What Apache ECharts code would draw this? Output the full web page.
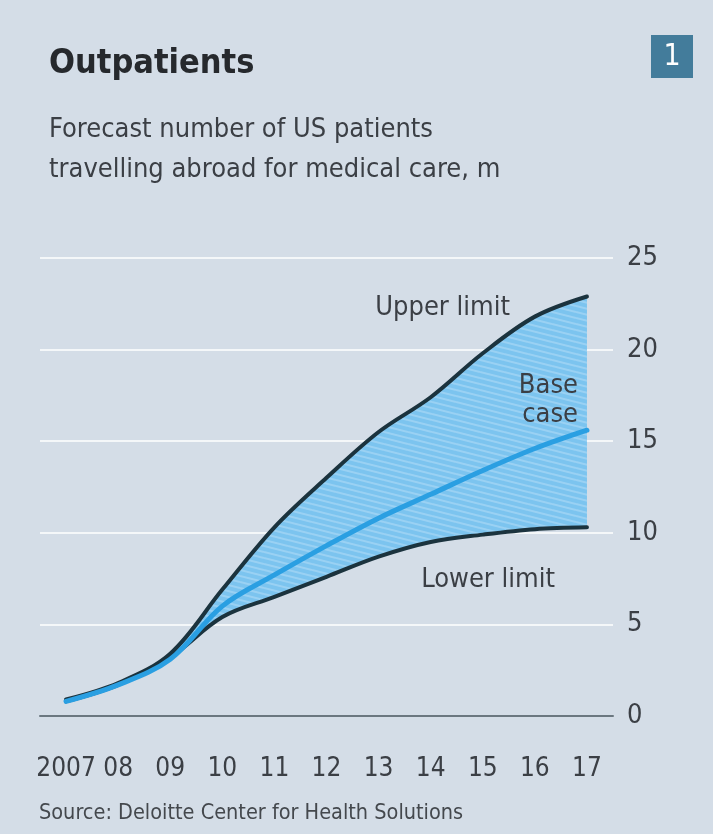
<!DOCTYPE html>
<html>
<head>
<meta charset="utf-8">
<style>
  html, body { margin: 0; padding: 0; background: #d4dde7; }
  #chart { width: 713px; height: 834px; }
</style>
<script src="https://cdn.jsdelivr.net/npm/echarts@6/dist/echarts.min.js"></script>
</head>
<body>
<div id="chart"></div>
<script>
// data, millions of patients
const years = ['2007', '08', '09', '10', '11', '12', '13', '14', '15', '16', '17']
const upperLimit = [0.9, 1.8, 3.4, 6.9, 10.3, 13.0, 15.5, 17.4, 19.8, 21.8, 22.9]
const baseCase = [0.8, 1.7, 3.1, 6.0, 7.7, 9.3, 10.8, 12.1, 13.4, 14.6, 15.6]
const lowerLimit = [0.8, 1.7, 3.2, 5.4, 6.5, 7.6, 8.7, 9.5, 9.9, 10.2, 10.3]
const yTicks = [0, 5, 10, 15, 20, 25]

const font = "'DejaVu Sans Condensed', 'Liberation Sans Narrow', sans-serif"
const textColor = '#3b3f45'

// striped fill for the band between limits
const makeStripes = () => {
  const c = document.createElement('canvas')
  c.width = 24
  c.height = 6
  const ctx = c.getContext('2d')
  ctx.fillStyle = '#7cc4ef'
  ctx.fillRect(0, 0, 24, 6)
  ctx.strokeStyle = '#9ad1f3'
  ctx.lineWidth = 2
  for (let k = -6; k <= 6; k += 6) {
    ctx.beginPath()
    ctx.moveTo(0, k)
    ctx.lineTo(24, k + 6)
    ctx.stroke()
  }
  return c
}

const chart = echarts.init(document.getElementById('chart'))

const bandHeight = upperLimit.map((v, i) => +(v - lowerLimit[i]).toFixed(2))

const lineSeries = (name, data, color, width, z) => ({
  name: name,
  type: 'line',
  data: data,
  smooth: 0.35,
  symbol: 'none',
  z: z,
  lineStyle: { color: color, width: width, cap: 'round' },
  silent: true
})

chart.setOption({
  backgroundColor: '#d4dde7',
  animation: false,
  title: [
    {
      text: 'Outpatients',
      left: 44,
      top: 42,
      textStyle: { fontFamily: font, fontSize: 34, fontWeight: 'bold', color: '#26292d' }
    },
    {
      text: 'Forecast number of US patients\ntravelling abroad for medical care, m',
      left: 44,
      top: 105,
      textStyle: { fontFamily: font, fontSize: 27, fontWeight: 'normal', color: textColor, lineHeight: 40 }
    },
    {
      text: 'Source: Deloitte Center for Health Solutions',
      left: 34,
      top: 797,
      textStyle: { fontFamily: font, fontSize: 21.5, fontWeight: 'normal', color: '#44484d' }
    }
  ],
  graphic: [
    {
      type: 'rect',
      shape: { x: 651, y: 35, width: 42, height: 43 },
      style: { fill: '#437c9b' }
    },
    {
      type: 'text',
      x: 672, y: 57,
      style: { text: '1', fill: '#ffffff', font: '30px ' + font, align: 'center', verticalAlign: 'middle' }
    },
    {
      type: 'text',
      x: 510, y: 308, z: 10,
      style: { text: 'Upper limit', fill: textColor, font: '27px ' + font, align: 'right', verticalAlign: 'middle' }
    },
    {
      type: 'text',
      x: 578, y: 400, z: 10,
      style: { text: 'Base\ncase', fill: textColor, font: '27px ' + font, align: 'right', verticalAlign: 'middle', lineHeight: 29 }
    },
    {
      type: 'text',
      x: 555, y: 580, z: 10,
      style: { text: 'Lower limit', fill: textColor, font: '27px ' + font, align: 'right', verticalAlign: 'middle' }
    }
  ],
  grid: { left: 40, right: 100, top: 258, bottom: 118 },
  xAxis: {
    type: 'category',
    data: years,
    boundaryGap: true,
    axisLine: { lineStyle: { color: '#6b7780', width: 2 } },
    axisTick: { alignWithLabel: true, length: 20, lineStyle: { color: '#6b7780', width: 2 } },
    axisLabel: { interval: 0, fontFamily: font, fontSize: 26, color: textColor, margin: 40 }
  },
  yAxis: {
    type: 'value',
    position: 'right',
    min: yTicks[0],
    max: yTicks[yTicks.length - 1],
    interval: 5,
    axisLine: { show: false },
    axisTick: { show: false },
    splitLine: { lineStyle: { color: 'rgba(255,255,255,0.75)', width: 2 } },
    axisLabel: { fontFamily: font, fontSize: 27, color: textColor, margin: 14, padding: [9, 0, 0, 0] }
  },
  series: [
    {
      name: 'bandBase',
      type: 'line',
      stack: 'band',
      data: lowerLimit,
      smooth: 0.35,
      symbol: 'none',
      lineStyle: { opacity: 0 },
      silent: true
    },
    {
      name: 'band',
      type: 'line',
      stack: 'band',
      data: bandHeight,
      smooth: 0.35,
      symbol: 'none',
      lineStyle: { opacity: 0 },
      areaStyle: { color: { image: makeStripes(), repeat: 'repeat' }, opacity: 1 },
      silent: true
    },
    lineSeries('Upper limit', upperLimit, '#1b333e', 4, 5),
    lineSeries('Lower limit', lowerLimit, '#1b333e', 4, 5),
    lineSeries('Base case', baseCase, '#2a9fe2', 5, 6)
  ]
})
</script>
</body>
</html>
